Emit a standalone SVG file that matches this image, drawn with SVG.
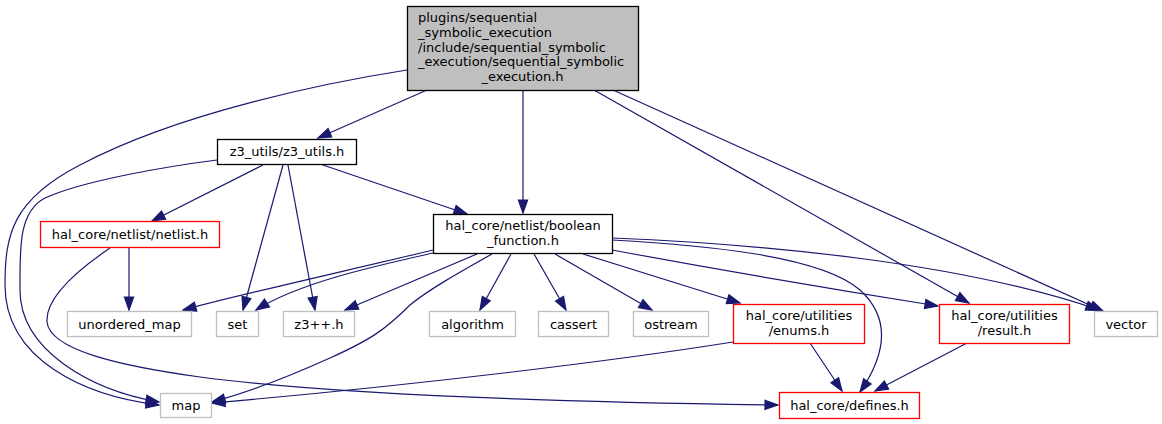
<svg xmlns="http://www.w3.org/2000/svg" width="1162" height="424" viewBox="0 0 1162 424">
<style>
text{font-family:"DejaVu Sans","Liberation Sans",sans-serif;font-size:13px;fill:#000}
.c{text-anchor:middle}
.n rect{fill:#fff;stroke:#000;stroke-width:1.3}
.g rect{fill:#fff;stroke:#bfbfbf;stroke-width:1.3}
.r rect{fill:#fff;stroke:#ff0000;stroke-width:1.3}
#edges path{fill:none;stroke:#191970;stroke-width:1.2;marker-end:url(#ah)}
</style>
<defs>
<marker id="ah" markerUnits="userSpaceOnUse" markerWidth="16" markerHeight="12" refX="13" refY="5" orient="auto" overflow="visible">
<path d="M0,0.4 L13,5 L0,9.6 Z" fill="#191970" stroke="#191970" stroke-width="1.2"/>
</marker>
</defs>
<rect width="1162" height="424" fill="#fff"/>
<g id="edges">
<path d="M407,70 C330,82 180,112 80,165 C12,200 5,235 5,285 C5,360 85,396 159,405"/>
<path d="M217,160 C170,166 85,180 45,198 C18,212 20,250 20,290 C20,350 90,390 159,402"/>
<path d="M427,90 L318,138"/>
<path d="M523,90 L523,213"/>
<path d="M320,164 L467,214"/>
<path d="M594,90 L969,303"/>
<path d="M613,90 L1103,311"/>
<path d="M612,238 C760,244 960,262 1099,310"/>
<path d="M612,240 C700,245 820,255 860,290 C895,322 882,360 860,392"/>
<path d="M612,250 C720,270 850,292 938,306"/>
<path d="M583,254 L740,303"/>
<path d="M555,254 L652,310"/>
<path d="M534,254 L566,310"/>
<path d="M511,254 L480,310"/>
<path d="M492,254 C460,272 428,290 410,305 C385,330 370,340 330,358 C290,376 250,392 212,402"/>
<path d="M477,254 L345,310"/>
<path d="M433,253 C380,265 300,282 256,310"/>
<path d="M433,250 C350,270 250,292 183,310"/>
<path d="M263,165 L152,221"/>
<path d="M283,165 L243,310"/>
<path d="M288,165 L315,310"/>
<path d="M129,247 L129,310"/>
<path d="M110,248 C85,265 45,295 47,322 C50,350 120,366 200,377 C350,397 630,403 778,405"/>
<path d="M733,342 C620,360 420,385 212,403"/>
<path d="M810,343 L842,391"/>
<path d="M967,343 L875,391"/>
</g>
<g id="root">
<rect x="407.5" y="6.5" width="231" height="84" fill="#bfbfbf" stroke="#000" stroke-width="1.3"/>
<text x="418" y="22">plugins/sequential</text>
<text x="418" y="37">_symbolic_execution</text>
<text x="418" y="51.5">/include/sequential_symbolic</text>
<text x="418" y="66">_execution/sequential_symbolic</text>
<text class="c" x="522.5" y="80.5">_execution.h</text>
</g>
<g id="z3_utils" class="n">
<rect x="217.5" y="139.5" width="139" height="25"/>
<text class="c" x="287" y="156">z3_utils/z3_utils.h</text>
</g>
<g id="boolean_function" class="n">
<rect x="433.5" y="214.5" width="179" height="39"/>
<text class="c" x="523" y="230">hal_core/netlist/boolean</text>
<text class="c" x="523" y="245">_function.h</text>
</g>
<g id="netlist" class="r">
<rect x="40.5" y="221.5" width="179" height="26"/>
<text class="c" x="130" y="239">hal_core/netlist/netlist.h</text>
</g>
<g id="unordered_map" class="g">
<rect x="67.5" y="311.5" width="124" height="25"/>
<text class="c" x="129.5" y="328.5">unordered_map</text>
</g>
<g id="set" class="g">
<rect x="216.5" y="311.5" width="42" height="25"/>
<text class="c" x="237.5" y="328.5">set</text>
</g>
<g id="z3pp" class="g">
<rect x="283.5" y="311.5" width="71" height="25"/>
<text class="c" x="319" y="328.5">z3++.h</text>
</g>
<g id="algorithm" class="g">
<rect x="429.5" y="311.5" width="86" height="25"/>
<text class="c" x="472.5" y="328.5">algorithm</text>
</g>
<g id="cassert" class="g">
<rect x="538.5" y="311.5" width="70" height="25"/>
<text class="c" x="573.5" y="328.5">cassert</text>
</g>
<g id="ostream" class="g">
<rect x="633.5" y="311.5" width="75" height="25"/>
<text class="c" x="671" y="328.5">ostream</text>
</g>
<g id="enums" class="r">
<rect x="733.5" y="304.5" width="131" height="39"/>
<text class="c" x="799" y="320">hal_core/utilities</text>
<text class="c" x="799" y="334.5">/enums.h</text>
</g>
<g id="result" class="r">
<rect x="939.5" y="304.5" width="130" height="39"/>
<text class="c" x="1004.5" y="320">hal_core/utilities</text>
<text class="c" x="1004.5" y="334.5">/result.h</text>
</g>
<g id="vector" class="g">
<rect x="1094.5" y="311.5" width="63" height="25"/>
<text class="c" x="1126" y="328.5">vector</text>
</g>
<g id="map" class="g">
<rect x="160.5" y="393.5" width="51" height="24"/>
<text class="c" x="186" y="410">map</text>
</g>
<g id="defines" class="r">
<rect x="779.5" y="392.5" width="140" height="26"/>
<text class="c" x="849.5" y="410">hal_core/defines.h</text>
</g>
</svg>
